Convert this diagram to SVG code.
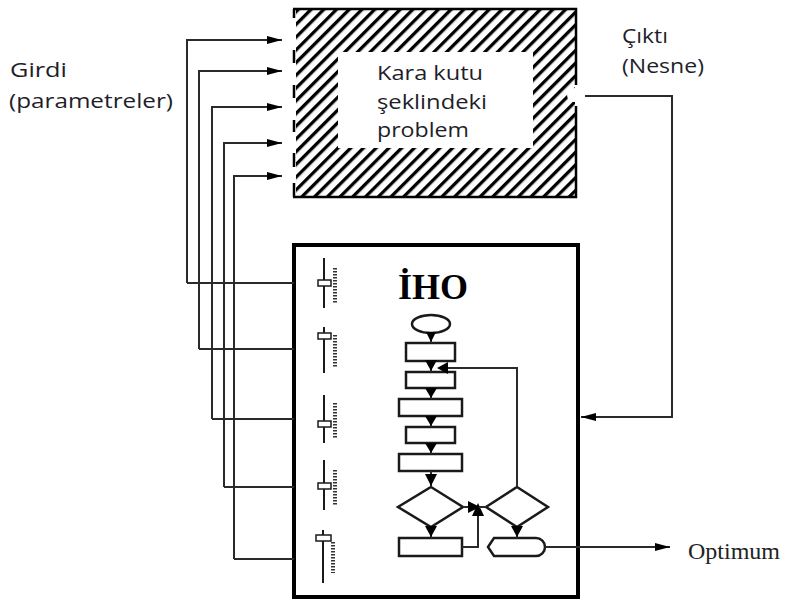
<svg xmlns="http://www.w3.org/2000/svg" width="785" height="601" viewBox="0 0 785 601">
<defs>
  <pattern id="hatch" patternUnits="userSpaceOnUse" width="9" height="9" patternTransform="rotate(45)">
    <rect width="9" height="9" fill="#fff"/>
    <rect x="0" y="0" width="3.3" height="9" fill="#000"/>
  </pattern>
  <marker id="arr" viewBox="0 0 15 8" refX="15" refY="4" markerWidth="15" markerHeight="8" markerUnits="userSpaceOnUse" orient="auto">
    <path d="M0,0 L15,4 L0,8 Z" fill="#000"/>
  </marker>
</defs>
<style>
  .lbl { font-family: "Open Sans", "Noto Sans", sans-serif; font-size: 20px; fill: #1e1e2a; }
  .conn { fill: none; stroke: #2a2a2a; stroke-width: 2; }
  .fc { fill: #fff; stroke: #1a1a1a; stroke-width: 2.5; }
  .fl { fill: none; stroke: #2a2a2a; stroke-width: 2; }
  .tri { fill: #000; }
  .sl { stroke: #1a1a1a; stroke-width: 2; }
  .knob { fill: #fff; stroke: #1a1a1a; stroke-width: 1.5; }
  .tick { stroke: #333; stroke-width: 4; stroke-dasharray: 1.6 1.4; }
</style>
<rect width="785" height="601" fill="#fff"/>

<!-- Labels -->
<g id="girdi">
  <text class="lbl" x="10" y="77" textLength="57" lengthAdjust="spacingAndGlyphs">Girdi</text>
  <text class="lbl" x="9" y="108" textLength="164" lengthAdjust="spacingAndGlyphs">(parametreler)</text>
</g>
<g id="cikti">
  <text class="lbl" x="622" y="43" textLength="46" lengthAdjust="spacingAndGlyphs">Çıktı</text>
  <text class="lbl" x="622" y="73" textLength="82" lengthAdjust="spacingAndGlyphs">(Nesne)</text>
</g>

<!-- Black box problem -->
<g id="karakutu">
  <rect x="296" y="8" width="279" height="189" fill="url(#hatch)"/>
  <rect x="338" y="52" width="195" height="96" fill="#fff"/>
  <path d="M293,9 H576 V85 M576,106 V197 H293" fill="none" stroke="#000" stroke-width="2.5"/>
  <path d="M294,9 V18 M294,50 V63 M294,85 V98 M294,120 V132 M294,153 V167 M294,183 V197" fill="none" stroke="#000" stroke-width="2.5"/>
  <circle cx="574" cy="95" r="7" fill="#fff"/>
  <text class="lbl" x="377" y="80" textLength="106" lengthAdjust="spacingAndGlyphs">Kara kutu</text>
  <text class="lbl" x="377" y="109" textLength="110" lengthAdjust="spacingAndGlyphs">şeklindeki</text>
  <text class="lbl" x="377" y="137" textLength="92" lengthAdjust="spacingAndGlyphs">problem</text>
</g>

<!-- IHO box -->
<g id="iho">
  <rect x="294" y="245" width="284" height="352" fill="#fff" stroke="#000" stroke-width="4"/>
  <text x="398" y="299" font-family="'Liberation Serif', serif" font-weight="bold" font-size="36" fill="#000">İHO</text>
</g>

<!-- Sliders -->
<g id="sliders">
  <line class="sl" x1="324" y1="258" x2="324" y2="308"/>
  <line class="tick" x1="335" y1="268" x2="335" y2="303"/>
  <rect class="knob" x="318" y="280" width="13" height="6"/>

  <line class="sl" x1="324" y1="327" x2="324" y2="373"/>
  <line class="tick" x1="335" y1="335" x2="335" y2="368"/>
  <rect class="knob" x="318" y="333" width="13" height="6"/>

  <line class="sl" x1="324" y1="395" x2="324" y2="443"/>
  <line class="tick" x1="335" y1="403" x2="335" y2="438"/>
  <rect class="knob" x="318" y="421" width="13" height="6"/>

  <line class="sl" x1="324" y1="460" x2="324" y2="510"/>
  <line class="tick" x1="335" y1="470" x2="335" y2="505"/>
  <rect class="knob" x="318" y="483" width="13" height="6"/>

  <line class="sl" x1="323" y1="530" x2="323" y2="583"/>
  <line class="tick" x1="333" y1="542" x2="333" y2="573"/>
  <rect class="knob" x="316" y="535" width="15" height="6"/>
</g>

<!-- Flowchart -->
<g id="flowchart">
  <ellipse class="fc" cx="431" cy="324" rx="19" ry="9"/>
  <rect class="fc" x="406" y="343" width="49" height="18"/>
  <rect class="fc" x="406" y="372" width="49" height="16"/>
  <rect class="fc" x="399" y="399" width="63" height="17"/>
  <rect class="fc" x="406" y="427" width="49" height="16"/>
  <rect class="fc" x="399" y="454" width="63" height="17"/>
  <polygon class="fc" points="431,487 463,507 431,527 398,507"/>
  <rect class="fc" x="399" y="538" width="63" height="18"/>
  <polygon class="fc" points="517,487 548,507 517,527 486,507"/>
  <path class="fc" d="M488,547 L494,538 H536 A9,9 0 0 1 536,556 H494 Z"/>

  <path class="fl" d="M431,333 V343 M431,361 V372 M431,388 V399 M431,416 V427 M431,443 V454 M431,471 V487 M431,527 V538 M517,527 V538"/>
  <path class="tri" d="M426,332 L436,332 L431,342 Z"/>
  <path class="tri" d="M425,360 L437,360 L431,371 Z"/>
  <path class="tri" d="M425,388 L437,388 L431,398 Z"/>
  <path class="tri" d="M425,416 L437,416 L431,426 Z"/>
  <path class="tri" d="M425,443 L437,443 L431,453 Z"/>
  <path class="tri" d="M425,474 L437,474 L431,486 Z"/>
  <path class="tri" d="M425,526 L437,526 L431,537 Z"/>
  <path class="tri" d="M511,526 L523,526 L517,537 Z"/>

  <path class="fl" d="M517,487 V368 H446"/>
  <path class="tri" d="M437,368 L448,362 L448,374 Z"/>
  <path class="fl" d="M462,547 H478 V514"/>
  <path class="tri" d="M478,503 L472,516 L484,516 Z"/>
  <path class="fl" d="M463,507 H486"/>
  <path class="tri" d="M480,507 L468,501 L468,513 Z"/>
</g>

<!-- Connectors -->
<g id="connectors">
  <path class="conn" d="M187,283 V40 H282" marker-end="url(#arr)"/>
  <path class="conn" d="M199,349 V71 H282" marker-end="url(#arr)"/>
  <path class="conn" d="M212,419 V107 H282" marker-end="url(#arr)"/>
  <path class="conn" d="M224,487 V143 H282" marker-end="url(#arr)"/>
  <path class="conn" d="M234,559 V176 H282" marker-end="url(#arr)"/>
  <path class="conn" d="M187,283 H294 M199,349 H294 M212,419 H294 M224,487 H294 M234,559 H294"/>
  <path class="conn" d="M585,96 H672 V417 H581" marker-end="url(#arr)"/>
  <path class="conn" d="M545,547 H670" marker-end="url(#arr)"/>
</g>

<g id="optimum">
  <text x="688" y="559" font-family="'Liberation Serif', serif" font-size="24" fill="#222">Optimum</text>
</g>
</svg>
